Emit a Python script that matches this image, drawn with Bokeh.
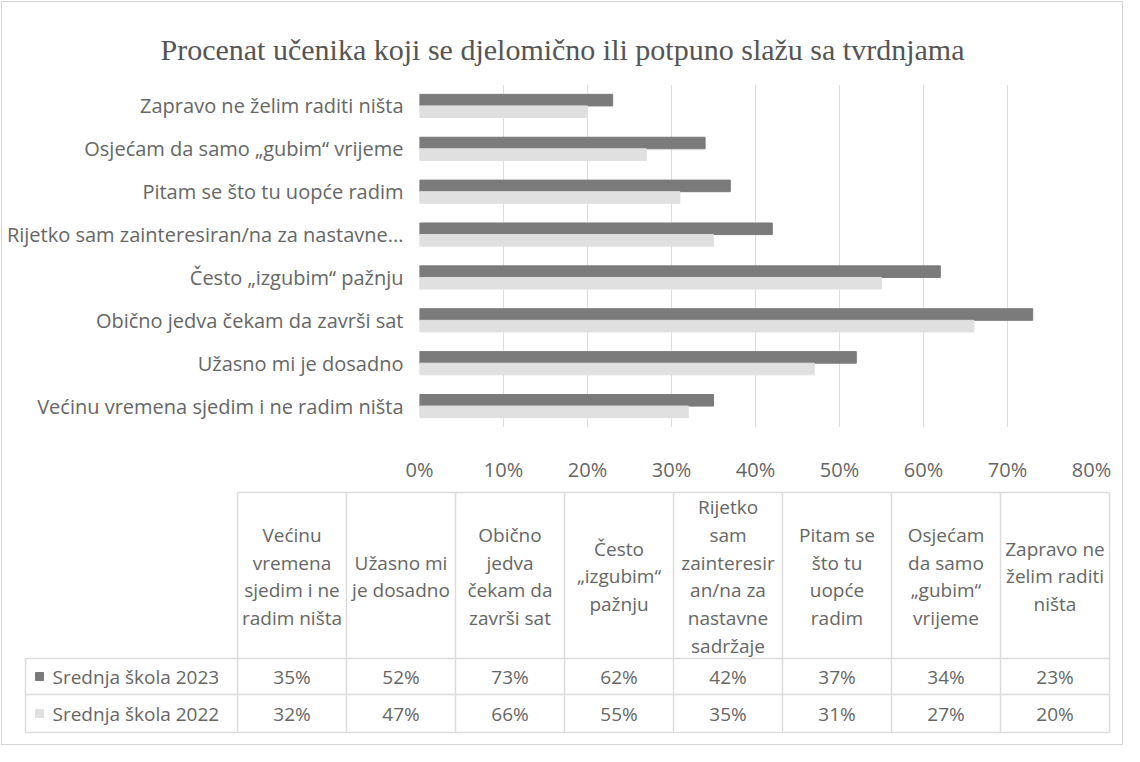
from bokeh.plotting import figure
from bokeh.models import FactorRange, Range1d, NumeralTickFormatter, FixedTicker, ColumnDataSource
from bokeh.transform import dodge
from bokeh.layouts import column
from bokeh.core.properties import value
from bokeh.embed import file_html
from bokeh.resources import INLINE

# ---------------- data ----------------
title_text = "Procenat učenika koji se djelomično ili potpuno slažu sa tvrdnjama"
axis_labels = [
    "Većinu vremena sjedim i ne radim ništa",
    "Užasno mi je dosadno",
    "Obično jedva čekam da završi sat",
    "Često „izgubim“ pažnju",
    "Rijetko sam zainteresiran/na za nastavne...",
    "Pitam se što tu uopće radim",
    "Osjećam da samo „gubim“ vrijeme",
    "Zapravo ne želim raditi ništa",
]
header_labels = [
    "Većinu\nvremena\nsjedim i ne\nradim ništa",
    "Užasno mi\nje dosadno",
    "Obično\njedva\nčekam da\nzavrši sat",
    "Često\n„izgubim“\npažnju",
    "Rijetko\nsam\nzainteresir\nan/na za\nnastavne\nsadržaje",
    "Pitam se\nšto tu\nuopće\nradim",
    "Osjećam\nda samo\n„gubim“\nvrijeme",
    "Zapravo ne\nželim raditi\nništa",
]
series_names = ["Srednja škola 2023", "Srednja škola 2022"]
values_2023 = [0.35, 0.52, 0.73, 0.62, 0.42, 0.37, 0.34, 0.23]
values_2022 = [0.32, 0.47, 0.66, 0.55, 0.35, 0.31, 0.27, 0.20]
x_ticks = [0.0, 0.1, 0.2, 0.3, 0.4, 0.5, 0.6, 0.7, 0.8]

# ---------------- styles ----------------
DARK = "#7b7b7b"
LIGHT = "#e0e0e0"
TXT = "#666666"
GRID = "#dcdcdc"
SANS = "Open Sans"
SERIF = "Liberation Serif"
FS = "19px"

W = 1124
TOP_H = 490

# ---------------- bar chart ----------------
src = ColumnDataSource(dict(cat=axis_labels, v23=values_2023, v22=values_2022))

p = figure(width=W, height=TOP_H, y_range=FactorRange(*axis_labels, range_padding=0),
           x_range=Range1d(0, 0.8), toolbar_location=None, output_backend="svg",
           min_border_left=419, min_border_right=33, min_border_top=84, min_border_bottom=63)
p.frame_align = False
p.border_fill_color = None
p.hbar(y=dodge("cat", 0.135, range=p.y_range), right="v23", left=0, height=0.27,
       source=src, color=DARK)
p.hbar(y=dodge("cat", -0.135, range=p.y_range), right="v22", left=0, height=0.27,
       source=src, color=LIGHT)

p.title.text = title_text
p.title.text_font = SERIF
p.title.text_font_size = "30px"
p.title.text_font_style = "normal"
p.title.text_color = "#555555"
p.title.align = "left"
p.title.offset = -259
p.title.standoff = 38

p.xaxis.ticker = FixedTicker(ticks=x_ticks)
p.xaxis.formatter = NumeralTickFormatter(format="0%")
for ax in (p.xaxis[0], p.yaxis[0]):
    ax.axis_line_color = None
    ax.major_tick_line_color = None
    ax.minor_tick_line_color = None
    ax.major_label_text_font = SANS
    ax.major_label_text_font_size = "20px"
    ax.major_label_text_color = TXT
p.xaxis.major_label_standoff = 22
p.yaxis.major_label_standoff = 10
p.xgrid.grid_line_color = GRID
p.ygrid.grid_line_color = None
p.outline_line_color = None

# ---------------- data table ----------------
ncol = len(header_labels)
colw = 109.0
left0 = 245 - 8
x_start = -left0 / colw
x_end = (W - left0) / colw
lab_left = (33 - 8 - left0) / colw
TH = 762 - 16 - TOP_H
header_top = 2
header_bottom = 168
row_lines = [168, 204, 242]
row_centers = [186, 223]

t = figure(width=W, height=TH, x_range=Range1d(x_start, x_end), y_range=Range1d(TH, 0),
           toolbar_location=None, output_backend="svg", min_border=0)
t.frame_align = False
t.border_fill_color = None
t.background_fill_color = None
t.axis.visible = False
t.grid.visible = False
t.outline_line_color = None

# cell borders
t.segment(x0=[0], x1=[ncol], y0=[header_top], y1=[header_top], line_color=GRID, line_width=1.5)
t.segment(x0=list(range(ncol + 1)), x1=list(range(ncol + 1)),
          y0=[header_top] * (ncol + 1), y1=[row_lines[-1]] * (ncol + 1), line_color=GRID, line_width=1.5)
t.segment(x0=[lab_left] * 3, x1=[ncol] * 3, y0=row_lines, y1=row_lines, line_color=GRID, line_width=1.5)
t.segment(x0=[lab_left], x1=[lab_left], y0=[header_bottom], y1=[row_lines[-1]], line_color=GRID, line_width=1.5)

# header text
t.text(x=[i + 0.5 for i in range(ncol)], y=[86] * ncol, text=header_labels,
       text_align="center", text_baseline="middle", text_font=value(SANS),
       text_font_size=FS, text_color=TXT, text_line_height=1.07)

# values
for vals, yc in zip((values_2023, values_2022), row_centers):
    t.text(x=[i + 0.5 for i in range(ncol)], y=[yc] * ncol,
           text=[f"{round(v * 100)}%" for v in vals],
           text_align="center", text_baseline="middle", text_font=value(SANS),
           text_font_size=FS, text_color=TXT)

# row labels with legend keys
key_x = (47 - 8 - left0) / colw
lbl_x = (60 - 8 - left0) / colw
t.scatter(x=[key_x, key_x], y=row_centers, marker="square", size=8,
          color=[DARK, LIGHT])
t.text(x=[lbl_x, lbl_x], y=row_centers, text=series_names, text_align="left",
       text_baseline="middle", text_font=value(SANS), text_font_size=FS, text_color=TXT)

layout = column(p, t, spacing=0,
                styles={"outline": "1px solid #d4d4d4", "outline-offset": "-2px"})

open("out.html", "w").write(file_html(layout, INLINE))
